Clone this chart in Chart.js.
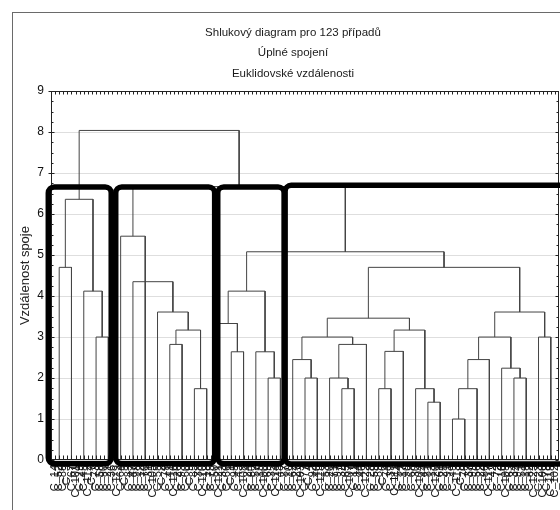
<!DOCTYPE html>
<html lang="cs">
<head>
  <meta charset="UTF-8">
  <title>Shlukový diagram</title>
  <style>
    html, body { margin: 0; padding: 0; overflow: hidden; background: #fff; }
    #frame { position: absolute; left: 12px; top: 12px; width: 700px; height: 700px;
             border-left: 1px solid #6a6a6a; border-top: 1px solid #6a6a6a; }
    #chart { position: absolute; left: 0; top: 0; }
  </style>
</head>
<body>
  <div id="frame"></div>
  <canvas id="chart" width="586" height="510"></canvas>
  <script src="https://cdn.jsdelivr.net/npm/chart.js"></script>
  <script>
    const titleLines = ["Shlukový diagram pro 123 případů", "Úplné spojení", "Euklidovské vzdálenosti"];
    const yTitle = "Vzdálenost spoje";

    // case labels in dendrogram order (unreadable in the source, approximated)
    const caseLabels = [
      "C_14", "C_52", "C_88", "C_3", "C_67", "C_101", "C_29", "C_45", "C_112", "C_7",
      "C_73", "C_58", "C_90", "C_21", "C_36", "C_119", "C_64", "C_5", "C_83", "C_47",
      "C_98", "C_12", "C_70", "C_31", "C_105", "C_55", "C_2", "C_79", "C_41", "C_116",
      "C_26", "C_93", "C_60", "C_9", "C_85", "C_38", "C_110", "C_18", "C_75", "C_50",
      "C_121", "C_33", "C_66", "C_1", "C_95", "C_43", "C_108", "C_24", "C_80", "C_57",
      "C_15", "C_100", "C_69", "C_35", "C_114", "C_48", "C_87", "C_10", "C_62", "C_27",
      "C_103", "C_77", "C_4", "C_92", "C_40", "C_118", "C_53", "C_20", "C_71", "C_97",
      "C_32", "C_65", "C_107", "C_11", "C_84", "C_46", "C_122", "C_28", "C_59", "C_89",
      "C_6", "C_74", "C_39", "C_111", "C_54", "C_17", "C_96", "C_68", "C_30", "C_104",
      "C_44", "C_81", "C_13", "C_120", "C_61", "C_25", "C_91", "C_49", "C_113", "C_8",
      "C_76", "C_37", "C_99", "C_56", "C_22", "C_86", "C_117", "C_42", "C_72", "C_16",
      "C_109", "C_63", "C_34", "C_94", "C_51", "C_19", "C_82", "C_123", "C_23", "C_106",
      "C_78", "C_115", "C_102"
    ];

    // merges: [left, right, linkage distance]; a number is a visible leaf (0..40),
    // "mN" refers to the N-th merge
    const merges = [
      [0, 1, 4.70], [3, 4, 3.00], [2, "m1", 4.12], ["m0", "m2", 6.36],
      [9, 10, 2.82], [11, 12, 1.74], ["m4", "m5", 3.17], [8, "m6", 3.61],
      [6, "m7", 4.35], [5, 7, 5.46],
      [14, 15, 2.64], [13, "m10", 3.33], [17, 18, 2.00], [16, "m12", 2.64],
      ["m11", "m13", 4.12],
      [20, 21, 2.00], [19, "m15", 2.45], [23, 24, 1.74], [22, "m17", 2.00],
      ["m18", 25, 2.82], ["m16", "m19", 3.00], [26, 27, 1.74], ["m21", 28, 2.65],
      [30, 31, 1.41], [29, "m23", 1.74], ["m22", "m24", 3.17], ["m20", "m25", 3.46],
      [32, 33, 1.00], ["m27", 34, 1.74], ["m28", 35, 2.45], [37, 38, 2.00],
      [36, "m30", 2.24], ["m29", "m31", 3.00], [39, 40, 3.00], ["m32", "m33", 3.61],
      ["m26", "m34", 4.70],
      ["m14", "m35", 5.08], ["m9", "m36", 6.67], ["m3", "m37", 8.04]
    ];

    // hand-drawn cluster frames: [xFrom, xTo, yFrom, yTo] in axis units
    const clusterBoxes = [
      [-0.66, 14.7, -0.09, 6.66],
      [15.8, 39.95, -0.09, 6.66],
      [40.7, 56.9, -0.09, 6.66],
      [57.15, 128, -0.1, 6.7]
    ];

    const nodes = {};
    const leafPos = (k) => ({ x: 3 * k + 2, y: 0 });
    const segments = [];
    merges.forEach(([l, r, h], i) => {
      const a = typeof l === "number" ? leafPos(l) : nodes[l];
      const b = typeof r === "number" ? leafPos(r) : nodes[r];
      segments.push({ x: a.x, y: a.y }, { x: a.x, y: h }, { x: b.x, y: h }, { x: b.x, y: b.y }, { x: b.x, y: null });
      nodes["m" + i] = { x: (a.x + b.x) / 2, y: h };
    });

    const frameTicks = {
      id: "frameTicks",
      afterDatasetsDraw(chart) {
        const { ctx, chartArea: a, scales: { x, y } } = chart;
        const L = Math.round(a.left) + 0.5, R = Math.round(a.right) - 0.5;
        const T = Math.round(a.top) + 0.5, B = Math.round(a.bottom) - 0.5;
        ctx.save();
        ctx.strokeStyle = "#222";
        ctx.lineWidth = 1;
        ctx.beginPath();
        caseLabels.forEach((_, i) => {
          const px = Math.round(x.getPixelForValue(i + 1)) + 0.5;
          ctx.moveTo(px, B); ctx.lineTo(px, B - 4);
          ctx.moveTo(px, T); ctx.lineTo(px, T + 3);
        });
        for (let v = 0; v <= 36; v++) {
          const py = Math.round(y.getPixelForValue(v / 4)) + 0.5;
          const major = v % 4 === 0;
          ctx.moveTo(L - (major ? 3 : 0), py); ctx.lineTo(L + (major ? 3 : 2), py);
          ctx.moveTo(R - (major ? 3 : 2), py); ctx.lineTo(R, py);
        }
        ctx.stroke();
        ctx.strokeRect(L, T, R - L, B - T);
        ctx.restore();
      }
    };

    const clusterFrames = {
      id: "clusterFrames",
      afterDraw(chart) {
        const { ctx, scales: { x, y } } = chart;
        ctx.save();
        ctx.strokeStyle = "#000";
        ctx.lineWidth = 5.5;
        clusterBoxes.forEach(([x1, x2, y1, y2]) => {
          const l = x.getPixelForValue(x1), r = x.getPixelForValue(x2);
          const t = y.getPixelForValue(y2), b = y.getPixelForValue(y1);
          ctx.beginPath();
          ctx.roundRect(l, t, r - l, b - t, 6);
          ctx.stroke();
        });
        ctx.restore();
      }
    };

    Chart.defaults.font.family = "'Liberation Sans', Arial, sans-serif";
    Chart.defaults.color = "#1a1a1a";

    new Chart(document.getElementById("chart"), {
      type: "line",
      data: {
        datasets: [{
          data: segments,
          borderColor: "#444",
          borderWidth: 1,
          pointRadius: 0,
          tension: 0,
          spanGaps: false
        }]
      },
      options: {
        responsive: false,
        animation: false,
        layout: { padding: 0 },
        plugins: {
          legend: { display: false },
          tooltip: { enabled: false },
          title: {
            display: true,
            text: titleLines,
            color: "#1a1a1a",
            font: { size: 11.5, weight: "normal", lineHeight: 1.8 },
            padding: { top: 22, bottom: 7 }
          }
        },
        scales: {
          x: {
            type: "linear",
            min: 0,
            max: 124,
            afterBuildTicks: (s) => { s.ticks = caseLabels.map((_, i) => ({ value: i + 1 })); },
            afterFit: (s) => { s.height = 50; },
            grid: { display: false, drawTicks: false },
            border: { display: false },
            ticks: {
              autoSkip: false,
              minRotation: 90,
              maxRotation: 90,
              padding: 5,
              font: { size: 11 },
              color: "#111",
              callback: (v) => caseLabels[v - 1] ?? ""
            }
          },
          y: {
            min: 0,
            max: 9,
            afterFit: (s) => { s.width = 51; },
            grid: { color: "#dedede", drawTicks: false },
            border: { display: false },
            ticks: { stepSize: 1, padding: 7, font: { size: 12 }, color: "#111" },
            title: {
              display: true,
              text: yTitle,
              font: { size: 13 },
              color: "#222",
              padding: { top: 18, bottom: 0 }
            }
          },
          yr: {
            position: "right",
            min: 0,
            max: 9,
            afterFit: (s) => { s.width = 27; },
            grid: { display: false, drawTicks: false },
            border: { display: false },
            ticks: { display: false }
          }
        }
      },
      plugins: [frameTicks, clusterFrames]
    });
  </script>
</body>
</html>
